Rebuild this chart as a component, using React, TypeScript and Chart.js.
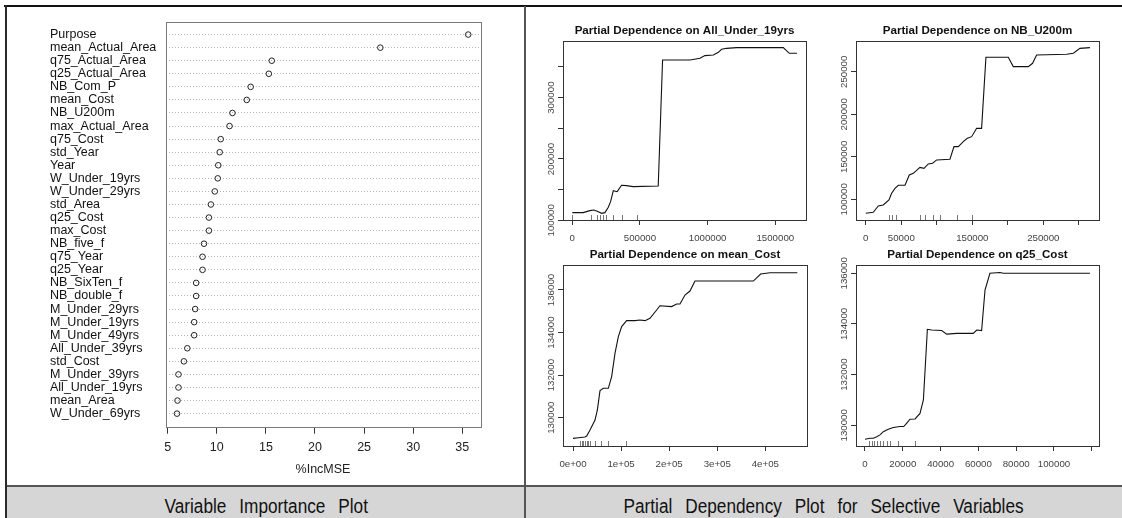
import React, { useEffect, useRef } from 'react';
import { Chart, registerables } from 'chart.js';

Chart.register(...registerables);

const FONT = '"Liberation Sans", Arial, Helvetica, sans-serif';
const CAPTION_FONT = '"Liberation Sans", Arial, sans-serif';

// ---------- Variable importance (dot chart) ----------
const VI_NAMES = [
  'Purpose', 'mean_Actual_Area', 'q75_Actual_Area', 'q25_Actual_Area', 'NB_Com_P', 'mean_Cost',
  'NB_U200m', 'max_Actual_Area', 'q75_Cost', 'std_Year', 'Year', 'W_Under_19yrs', 'W_Under_29yrs',
  'std_Area', 'q25_Cost', 'max_Cost', 'NB_five_f', 'q75_Year', 'q25_Year', 'NB_SixTen_f',
  'NB_double_f', 'M_Under_29yrs', 'M_Under_19yrs', 'M_Under_49yrs', 'All_Under_39yrs', 'std_Cost',
  'M_Under_39yrs', 'All_Under_19yrs', 'mean_Area', 'W_Under_69yrs',
];
const VI_VALUES = [
  35.6, 26.65, 15.6, 15.3, 13.45, 13.05, 11.6, 11.3, 10.4, 10.3, 10.15, 10.1, 9.8, 9.4, 9.2, 9.2,
  8.7, 8.55, 8.55, 7.9, 7.9, 7.8, 7.7, 7.7, 7.0, 6.65, 6.1, 6.1, 6.0, 5.95,
];
const VI_XTICKS = [5, 10, 15, 20, 25, 30, 35];

// ---------- Partial dependence: All_Under_19yrs ----------
const PD1_X = [0, 80000, 130000, 160000, 192000, 217000, 241000, 266000, 283000, 303000, 332000, 364000, 400000, 450000, 635000, 667000, 870000, 943000, 980000, 1042000, 1079000, 1103000, 1140000, 1214000, 1559000, 1603000, 1660000];
const PD1_Y = [112500, 112500, 115800, 116800, 114100, 111400, 112500, 121200, 130400, 148400, 146700, 157100, 156500, 154900, 156000, 361400, 361400, 364100, 368500, 369600, 373900, 378800, 380400, 381500, 381500, 372300, 372300];
const PD1_RUG = [0, 138000, 185000, 204000, 224000, 248000, 298000, 364000, 475000];
const PD1_XTICKS = [0, 500000, 1000000, 1500000];
const PD1_XLABELS = ['0', '500000', '1000000', '1500000'];
const PD1_YTICKS = [100000, 150000, 200000, 250000, 300000, 350000];
const PD1_YLABELS = ['100000', '', '200000', '', '300000', ''];

// ---------- Partial dependence: NB_U200m ----------
const PD2_X = [0, 10500, 17600, 24600, 32600, 36400, 41100, 45800, 55200, 61300, 66900, 76300, 81900, 88000, 94100, 99800, 118500, 124200, 130300, 137300, 143000, 149100, 156100, 163100, 169200, 200700, 207700, 228800, 234900, 240600, 282900, 292300, 301600, 315700];
const PD2_Y = [83500, 84700, 92200, 93300, 99200, 107100, 112900, 116500, 116500, 128600, 130600, 137600, 136500, 141600, 142400, 146300, 147100, 162000, 162000, 167800, 171800, 173700, 183500, 183500, 267100, 267100, 256100, 256100, 260000, 269800, 270600, 271800, 277600, 278400];
const PD2_RUG = [32600, 36400, 42500, 76300, 83300, 95000, 104500, 128000, 149100];
const PD2_XTICKS = [0, 50000, 100000, 150000, 200000, 250000, 300000];
const PD2_XLABELS = ['0', '50000', '', '150000', '', '250000', ''];
const PD2_YTICKS = [100000, 150000, 200000, 250000];
const PD2_YLABELS = ['100000', '150000', '200000', '250000'];

// ---------- Partial dependence: mean_Cost ----------
const PD3_X = [0, 11100, 25000, 28400, 35400, 45800, 50600, 56200, 63100, 73500, 80400, 87300, 94300, 101200, 111600, 128900, 139300, 149700, 160100, 174000, 180900, 205200, 215600, 222500, 232900, 243300, 253700, 375000, 390300, 409700, 466600];
const PD3_Y = [129030, 129060, 129090, 129140, 129420, 129890, 130360, 131270, 131380, 131380, 131930, 133020, 133810, 134280, 134560, 134560, 134590, 134560, 134670, 135060, 135260, 135220, 135340, 135340, 135760, 135950, 136420, 136420, 136750, 136810, 136810];
const PD3_RUG = [14500, 18000, 21500, 25000, 28400, 31900, 35400, 45800, 58200, 73500, 110200];
const PD3_XTICKS = [0, 100000, 200000, 300000, 400000];
const PD3_XLABELS = ['0e+00', '1e+05', '2e+05', '3e+05', '4e+05'];
const PD3_YTICKS = [130000, 132000, 134000, 136000];
const PD3_YLABELS = ['130000', '132000', '134000', '136000'];

// ---------- Partial dependence: q25_Cost ----------
const PD4_X = [0, 2650, 4400, 6200, 7900, 9700, 12300, 15000, 18500, 20500, 22000, 23800, 26500, 29100, 30900, 33000, 35300, 40600, 43200, 48500, 57300, 59100, 61700, 63500, 66100, 71400, 73200, 119000];
const PD4_Y = [129450, 129490, 129490, 129550, 129620, 129750, 129840, 129910, 129950, 129950, 130080, 130240, 130250, 130470, 131000, 133790, 133760, 133740, 133600, 133630, 133630, 133760, 133740, 135340, 136000, 136030, 136000, 136000];
const PD4_RUG = [2300, 3500, 4800, 6200, 7900, 9700, 11500, 13200, 17600, 26500];
const PD4_XTICKS = [0, 20000, 40000, 60000, 80000, 100000, 120000];
const PD4_XLABELS = ['0', '20000', '40000', '60000', '80000', '100000', ''];
const PD4_YTICKS = [130000, 132000, 134000, 136000];
const PD4_YLABELS = ['130000', '132000', '134000', '136000'];

// ---------- plugins ----------
const boxPlugin = {
  id: 'rbox',
  afterDraw(chart: any, _a: any, opts: any) {
    const { ctx, chartArea: a } = chart;
    ctx.save();
    ctx.strokeStyle = opts.color || '#333';
    ctx.lineWidth = 1;
    ctx.strokeRect(Math.round(a.left) + 0.5, Math.round(a.top) + 0.5, Math.round(a.right - a.left), Math.round(a.bottom - a.top));
    ctx.restore();
  },
};

const rotYLabels = {
  id: 'rylab',
  afterDraw(chart: any, _a: any, opts: any) {
    const s = chart.scales.y;
    const { ctx, chartArea } = chart;
    ctx.save();
    ctx.fillStyle = opts.color || '#333';
    ctx.font = `${opts.size || 9.7}px ${FONT}`;
    ctx.textAlign = 'center';
    ctx.textBaseline = 'middle';
    s.ticks.forEach((t: any) => {
      if (!t.label) return;
      const y = s.getPixelForValue(t.value);
      ctx.save();
      ctx.translate(chartArea.left - (opts.offset || 11.5), y);
      ctx.rotate(-Math.PI / 2);
      ctx.fillText(String(t.label), 0, 0);
      ctx.restore();
    });
    ctx.restore();
  },
};

const rugPlugin = {
  id: 'rug',
  afterDatasetsDraw(chart: any, _a: any, opts: any) {
    const s = chart.scales.x;
    const { ctx, chartArea } = chart;
    ctx.save();
    ctx.strokeStyle = opts.color || '#666';
    ctx.lineWidth = 1;
    (opts.values || []).forEach((v: number) => {
      const x = Math.round(s.getPixelForValue(v)) + 0.5;
      ctx.beginPath();
      ctx.moveTo(x, chartArea.bottom);
      ctx.lineTo(x, chartArea.bottom - (opts.len || 5));
      ctx.stroke();
    });
    ctx.restore();
  },
};

const titlePlugin = {
  id: 'rtitle',
  afterDraw(chart: any, _a: any, opts: any) {
    const { ctx, chartArea } = chart;
    ctx.save();
    ctx.fillStyle = opts.color || '#111';
    ctx.font = `bold ${opts.size || 11.6}px ${FONT}`;
    ctx.textAlign = 'center';
    ctx.textBaseline = 'middle';
    ctx.fillText(opts.text, (chartArea.left + chartArea.right) / 2, chartArea.top - (opts.offset || 10));
    ctx.restore();
  },
};

// ---------- chart components ----------
function useChart(build: () => any) {
  const ref = useRef<HTMLCanvasElement | null>(null);
  useEffect(() => {
    if (!ref.current) return;
    const chart = new Chart(ref.current, build());
    return () => chart.destroy();
  }, []);
  return ref;
}

const VI_CANVAS = { x: 7, y: 8, w: 517, h: 480 };
const VI_BOX = { L: 165.7, T: 21.5, R: 480.3, B: 426.7 };
const VI_LABEL_LEFT = 50;

function ImportanceChart() {
  const ref = useChart(() => {
    const yw = VI_BOX.L - VI_LABEL_LEFT;
    const xh = 60;
    return {
      type: 'scatter',
      data: {
        datasets: [
          {
            data: VI_VALUES.map((v, i) => ({ x: v, y: i + 1 })),
            pointStyle: 'circle',
            pointRadius: 2.8,
            pointHoverRadius: 2.8,
            borderColor: '#222',
            borderWidth: 1,
            backgroundColor: 'rgba(0,0,0,0)',
          },
        ],
      },
      options: {
        animation: false,
        responsive: false,
        events: [],
        layout: {
          padding: {
            left: VI_LABEL_LEFT - VI_CANVAS.x,
            top: VI_BOX.T - VI_CANVAS.y,
            right: VI_CANVAS.x + VI_CANVAS.w - VI_BOX.R,
            bottom: VI_CANVAS.y + VI_CANVAS.h - VI_BOX.B - xh,
          },
        },
        plugins: { legend: { display: false }, tooltip: { enabled: false }, rbox: { color: '#7a7a7a' } },
        scales: {
          x: {
            type: 'linear',
            min: 4.8,
            max: 36.83,
            bounds: 'data',
            afterBuildTicks: (s: any) => { s.ticks = VI_XTICKS.map((v) => ({ value: v })); },
            afterFit: (s: any) => { s.height = xh; },
            grid: { drawOnChartArea: false, drawTicks: true, tickLength: 7, color: '#333', tickColor: '#333' },
            border: { display: false },
            ticks: { autoSkip: false, maxRotation: 0, padding: 6.5, color: '#222', font: { family: FONT, size: 12.5 }, callback: (v: any) => String(v) },
            title: { display: true, text: '%IncMSE', color: '#222', font: { family: FONT, size: 12.5 }, padding: { top: 0, bottom: 10 } },
          },
          y: {
            type: 'linear',
            min: 0,
            max: VI_NAMES.length + 1,
            reverse: true,
            bounds: 'data',
            afterBuildTicks: (s: any) => {
              s.ticks = Array.from({ length: VI_NAMES.length + 2 }, (_, i) => ({ value: i }));
            },
            afterFit: (s: any) => { s.width = yw; },
            grid: {
              drawTicks: false,
              tickLength: 0,
              lineWidth: 1,
              color: (c: any) => (c.tick && (c.tick.value === 0 || c.tick.value === VI_NAMES.length + 1) ? 'rgba(0,0,0,0)' : '#b4b4b4'),
            },
            border: { display: false, dash: [1, 2] },
            ticks: {
              autoSkip: false,
              crossAlign: 'far',
              padding: 0,
              color: '#111',
              font: { family: FONT, size: 12.5 },
              callback: (v: any) => VI_NAMES[v - 1] ?? '',
            },
          },
        },
      },
      plugins: [boxPlugin],
    };
  });
  return (
    <canvas
      ref={ref}
      width={VI_CANVAS.w}
      height={VI_CANVAS.h}
      style={{ position: 'absolute', left: VI_CANVAS.x, top: VI_CANVAS.y, width: VI_CANVAS.w, height: VI_CANVAS.h }}
    />
  );
}

type PDProps = {
  title: string;
  xs: number[];
  ys: number[];
  rug: number[];
  xTicks: number[];
  xLabels: string[];
  yTicks: number[];
  yLabels: string[];
  xRange: [number, number];
  yRange: [number, number];
  box: { L: number; T: number; R: number; B: number };
};

function PDChart(p: PDProps) {
  const cx = p.box.L - 40;
  const cy = p.box.T - 25;
  const cw = p.box.R - p.box.L + 50;
  const ch = p.box.B - p.box.T + 60;
  const ref = useChart(() => ({
    type: 'scatter',
    data: {
      datasets: [
        {
          data: p.xs.map((x, i) => ({ x, y: p.ys[i] })),
          showLine: true,
          borderColor: '#111',
          borderWidth: 1.1,
          pointRadius: 0,
          pointHoverRadius: 0,
          tension: 0,
        },
      ],
    },
    options: {
      animation: false,
      responsive: false,
      events: [],
      layout: { padding: { left: 10, top: 25, right: 10, bottom: 5 } },
      plugins: {
        legend: { display: false },
        tooltip: { enabled: false },
        rbox: { color: '#333' },
        rylab: { color: '#444', size: 9.7, offset: 11.5 },
        rug: { values: p.rug, len: 5, color: '#777' },
        rtitle: { text: p.title, size: 11.6, offset: 10 },
      },
      scales: {
        x: {
          type: 'linear',
          min: p.xRange[0],
          max: p.xRange[1],
          bounds: 'data',
          afterBuildTicks: (s: any) => { s.ticks = p.xTicks.map((v) => ({ value: v })); },
          afterFit: (s: any) => { s.height = 30; },
          grid: { drawOnChartArea: false, drawTicks: true, tickLength: 5, color: '#333', tickColor: '#333' },
          border: { display: false },
          ticks: {
            autoSkip: false,
            maxRotation: 0,
            minRotation: 0,
            padding: 7.5,
            color: '#444',
            font: { family: FONT, size: 9.7 },
            callback: (_v: any, i: number) => p.xLabels[i] ?? '',
          },
        },
        y: {
          type: 'linear',
          min: p.yRange[0],
          max: p.yRange[1],
          bounds: 'data',
          afterBuildTicks: (s: any) => { s.ticks = p.yTicks.map((v) => ({ value: v })); },
          afterFit: (s: any) => { s.width = 30; },
          grid: { drawOnChartArea: false, drawTicks: true, tickLength: 5, color: '#333', tickColor: '#333' },
          border: { display: false },
          ticks: {
            display: false,
            autoSkip: false,
            callback: (_v: any, i: number) => p.yLabels[i] ?? '',
          },
        },
      },
    },
    plugins: [boxPlugin, rotYLabels, rugPlugin, titlePlugin],
  }));
  return (
    <canvas
      ref={ref}
      width={cw}
      height={ch}
      style={{ position: 'absolute', left: cx, top: cy, width: cw, height: ch }}
    />
  );
}

function Caption({ left, width, text }: { left: number; width: number; text: string }) {
  return (
    <div
      style={{
        position: 'absolute',
        left,
        width,
        top: 494,
        height: 24,
        lineHeight: '24px',
        textAlign: 'center',
        whiteSpace: 'nowrap',
      }}
    >
      <span
        style={{
          display: 'inline-block',
          fontFamily: CAPTION_FONT,
          fontSize: 20,
          wordSpacing: 9.5,
          color: '#111',
          transform: 'scaleX(0.86)',
          transformOrigin: 'center',
        }}
      >
        {text}
      </span>
    </div>
  );
}

export default function App() {
  return (
    <div style={{ position: 'absolute', left: 0, top: 0, width: 1122, height: 518, overflow: 'hidden', background: '#fff' }}>
      <div style={{ position: 'absolute', left: 7, top: 485, width: 1115, height: 33, background: '#d6d6d6', borderTop: '2px solid #555', boxSizing: 'border-box' }} />
      <Caption left={7} width={518} text="Variable Importance Plot" />
      <Caption left={526} width={596} text="Partial Dependency Plot for Selective Variables" />
      <ImportanceChart />
      <PDChart
        title="Partial Dependence on All_Under_19yrs"
        xs={PD1_X} ys={PD1_Y} rug={PD1_RUG}
        xTicks={PD1_XTICKS} xLabels={PD1_XLABELS} yTicks={PD1_YTICKS} yLabels={PD1_YLABELS}
        xRange={[-68700, 1726800]} yRange={[100490, 392350]}
        box={{ L: 563, T: 41, R: 806, B: 220 }}
      />
      <PDChart
        title="Partial Dependence on NB_U200m"
        xs={PD2_X} ys={PD2_Y} rug={PD2_RUG}
        xTicks={PD2_XTICKS} xLabels={PD2_XLABELS} yTicks={PD2_YTICKS} yLabels={PD2_YLABELS}
        xRange={[-13800, 328450]} yRange={[75650, 286240]}
        box={{ L: 856, T: 41, R: 1099, B: 220 }}
      />
      <PDChart
        title="Partial Dependence on mean_Cost"
        xs={PD3_X} ys={PD3_Y} rug={PD3_RUG}
        xTicks={PD3_XTICKS} xLabels={PD3_XLABELS} yTicks={PD3_YTICKS} yLabels={PD3_YLABELS}
        xRange={[-20800, 486700]} yRange={[128670, 137174]}
        box={{ L: 563, T: 265, R: 807, B: 446 }}
      />
      <PDChart
        title="Partial Dependence on q25_Cost"
        xs={PD4_X} ys={PD4_Y} rug={PD4_RUG}
        xTicks={PD4_XTICKS} xLabels={PD4_XLABELS} yTicks={PD4_YTICKS} yLabels={PD4_YLABELS}
        xRange={[-4760, 123810]} yRange={[129183, 136327]}
        box={{ L: 856, T: 265, R: 1099, B: 446 }}
      />
      <div style={{ position: 'absolute', left: 4, top: 5, width: 1118, height: 2, background: '#111' }} />
      <div style={{ position: 'absolute', left: 5, top: 5, width: 2, height: 513, background: '#2a2a2a' }} />
      <div style={{ position: 'absolute', left: 524, top: 6, width: 2, height: 512, background: '#555' }} />
    </div>
  );
}
